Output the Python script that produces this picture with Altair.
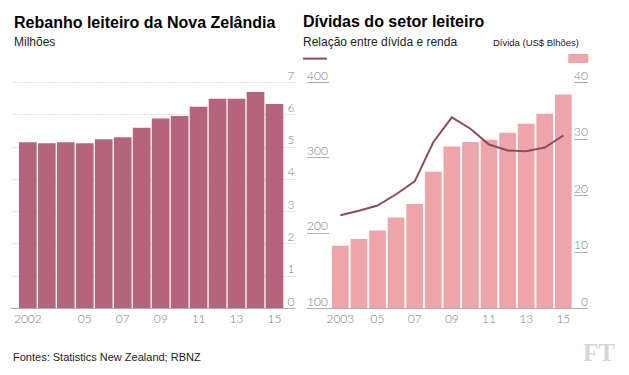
import altair as alt
import pandas as pd

# ---- data ----
herd_years = ["2002", "2003", "2004", "2005", "2006", "2007", "2008",
              "2009", "2010", "2011", "2012", "2013", "2014", "2015"]
herd_millions = [5.13, 5.10, 5.13, 5.10, 5.23, 5.29, 5.58,
                 5.87, 5.95, 6.23, 6.48, 6.48, 6.69, 6.32]

debt_years = ["2003", "2004", "2005", "2006", "2007", "2008", "2009",
              "2010", "2011", "2012", "2013", "2014", "2015"]
debt_bn = [11.0, 12.2, 13.7, 16.0, 18.4, 24.1, 28.6,
           29.4, 29.8, 31.0, 32.6, 34.4, 37.8]
debt_income_ratio = [223, 229, 236, 251, 268, 320, 353,
                     338, 317, 309, 308, 313, 329]

left_tick_years = ["2002", "2005", "2007", "2009", "2011", "2013", "2015"]
left_tick_labels = ["2002", "05", "07", "09", "11", "13", "15"]
right_tick_years = ["2003", "2005", "2007", "2009", "2011", "2013", "2015"]
right_tick_labels = ["2003", "05", "07", "09", "11", "13", "15"]
herd_ticks = [0, 1, 2, 3, 4, 5, 6, 7]
debt_ticks = [0, 10, 20, 30, 40]
ratio_ticks = [100, 200, 300, 400]

left_title = "Rebanho leiteiro da Nova Zelândia"
left_subtitle = "Milhões"
right_title = "Dívidas do setor leiteiro"
right_subtitle = "Relação entre dívida e renda"
right_legend = "Dívida (US$ Blhões)"
source_note = "Fontes: Statistics New Zealand; RBNZ"
logo = "FT"

# ---- style ----
LEFT_BAR = "#b4657d"
RIGHT_BAR = "#eea5aa"
LINE = "#8e4a62"
LABEL_GREY = "#7d7d7d"
TICK_GREY = "#b0b0b0"
TITLE_FONT = "Liberation Sans"
AXIS_FONT = "Lato"

herd_df = pd.DataFrame({"year": herd_years, "herd": herd_millions})
debt_df = pd.DataFrame({"year": debt_years, "debt": debt_bn, "ratio": debt_income_ratio})


def label_expr(years, labels):
    expr = "''"
    for y, l in zip(reversed(years), reversed(labels)):
        expr = f"datum.value == '{y}' ? '{l}' : ({expr})"
    return expr


def text_layer(txt, x, y, size, weight="normal", color="#000000",
               font=TITLE_FONT, align="left"):
    return alt.Chart(pd.DataFrame({"t": [txt]})).mark_text(
        align=align, baseline="alphabetic", fontSize=size,
        fontWeight=weight, color=color, font=font
    ).encode(x=alt.value(x), y=alt.value(y), text="t:N")


W_L, W_R, H = 285, 245, 226

left_bars = alt.Chart(herd_df).mark_bar(color=LEFT_BAR).encode(
    x=alt.X("year:N",
            scale=alt.Scale(paddingInner=0.067, paddingOuter=0.545, align=0.435),
            axis=alt.Axis(values=left_tick_years,
                          labelExpr=label_expr(left_tick_years, left_tick_labels),
                          title=None, ticks=False, domain=True,
                          domainColor=TICK_GREY, labelAngle=0, labelPadding=5)),
    y=alt.Y("herd:Q",
            scale=alt.Scale(domain=[0, 7], nice=False),
            axis=alt.Axis(orient="right", values=herd_ticks, grid=True,
                          gridDash=[1, 2], gridColor="#bdbdbd", ticks=False,
                          domain=False, labelAlign="right", labelPadding=-1,
                          labelBaseline="alphabetic", labelOffset=-3, title=None)),
)

left = alt.layer(
    left_bars,
    text_layer(left_title, 4, -53.7, 16, weight="bold"),
    text_layer(left_subtitle, 4, -35.7, 12, color="#222222"),
    text_layer(source_note, 3, 279, 11, color="#222222"),
).properties(width=W_L, height=H)

right_bars = alt.Chart(debt_df).mark_bar(color=RIGHT_BAR).encode(
    x=alt.X("year:N",
            scale=alt.Scale(paddingInner=0.101, paddingOuter=0.143, align=0.66),
            axis=alt.Axis(values=right_tick_years,
                          labelExpr=label_expr(right_tick_years, right_tick_labels),
                          title=None, ticks=False, domain=True,
                          domainColor=TICK_GREY, labelAngle=0, labelPadding=5)),
    y=alt.Y("debt:Q",
            scale=alt.Scale(domain=[0, 40], nice=False),
            axis=alt.Axis(orient="right", values=debt_ticks, grid=False,
                          ticks=True, tickSize=14, tickColor=TICK_GREY,
                          domain=False, labelAlign="right", labelPadding=0,
                          labelBaseline="alphabetic", labelOffset=-3, title=None)),
)

right_line = alt.Chart(debt_df).mark_line(color=LINE, strokeWidth=2).encode(
    x=alt.X("year:N"),
    y=alt.Y("ratio:Q",
            scale=alt.Scale(domain=[100, 400], nice=False),
            axis=alt.Axis(orient="left", values=ratio_ticks, grid=False,
                          ticks=True, tickSize=22, tickColor=TICK_GREY,
                          domain=False, labelAlign="left", labelPadding=0,
                          labelBaseline="alphabetic", labelOffset=-3, title=None)),
)

line_swatch = alt.Chart(pd.DataFrame({"k": ["ratio"]})).mark_rule(
    color=LINE, strokeWidth=2
).encode(x=alt.value(-25.5), x2=alt.value(-1.5), y=alt.value(-23.4))

bar_swatch = alt.Chart(pd.DataFrame({"k": ["debt"]})).mark_rect(
    color=RIGHT_BAR
).encode(x=alt.value(239.8), x2=alt.value(259.8), y=alt.value(-28), y2=alt.value(-19))

right = alt.layer(
    right_bars,
    right_line,
    line_swatch,
    bar_swatch,
    text_layer(right_title, -25.5, -54.7, 16, weight="bold"),
    text_layer(right_subtitle, -25.5, -35.7, 12, color="#222222"),
    text_layer(right_legend, 250.5, -35.7, 9.5, color="#222222", align="right"),
    text_layer(logo, 254.5, 279, 25, weight="bold", color="#d6d6d6",
               font="Liberation Serif"),
).resolve_scale(y="independent").properties(width=W_R, height=H)

chart = alt.hconcat(left, right, spacing=33.5, bounds="flush").properties(
    padding={"left": 2, "top": 6, "right": 5, "bottom": 5},
    background="white",
).configure_view(stroke=None).configure_axis(
    labelFont=AXIS_FONT, labelFontSize=12, labelColor=LABEL_GREY,
    labelFontWeight=300,
)

chart.save("out.html", embed_options={"renderer": "svg", "actions": False})
